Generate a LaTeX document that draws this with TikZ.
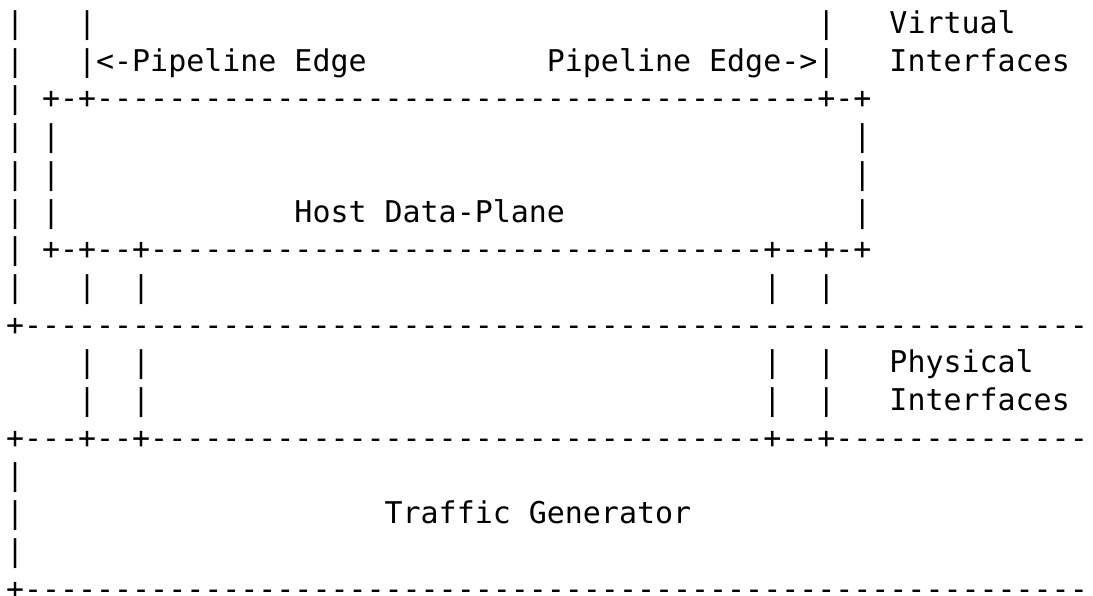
\documentclass[tikz,border=0pt]{standalone}
\usepackage{fontspec}
\setmonofont{DejaVu Sans Mono}
\usepackage{tikz}
\tikzset{ascii/.style={font=\ttfamily\fontsize{14.975pt}{18pt}\selectfont,
    anchor=base west,inner sep=0pt,outer sep=0pt}}
% a run of n dashes
\newcommand{\dashrun}[1]{\foreach \n in {1,...,#1}{-}}

\begin{document}
\begin{tikzpicture}[x=9.015pt,y=-18.85pt]
        % one unit = one character cell, rows counted downwards
        \clip (-0.333,-0.889) rectangle (60.288,14.894);
        \fill[white] (-0.333,-0.889) rectangle (60.288,14.894);

        % left frame down to the split line
        \foreach \r in {0,...,7} { \node[ascii] (frame\r) at (0,\r) {|}; }

        % pipeline edges
        \node[ascii] (edgeLtop) at (4,0) {|};
        \node[ascii] (edgeL) at (4,1) {|<-Pipeline Edge};
        \node[ascii] (edgeRtop) at (45,0) {|};
        \node[ascii] (edgeR) at (30,1) {Pipeline Edge->|};
        \node[ascii] (virt1) at (49,0) {Virtual};
        \node[ascii] (virt2) at (49,1) {Interfaces};

        % host data-plane box
        \node[ascii] (hostTop) at (2,2) {+-+\dashrun{40}+-+};
        \foreach \r in {3,4,5} {
            \node[ascii] (hostL\r) at (2,\r) {|};
            \node[ascii] (hostR\r) at (47,\r) {|};
        }
        \node[ascii] (host) at (16,5) {Host Data-Plane};
        \node[ascii] (hostBot) at (2,6) {+-+--+\dashrun{34}+--+-+};

        % split line between host and wire
        \node[ascii] (split) at (0,8) {+\dashrun{59}};

        % interface legs
        \foreach \c in {4,7,42,45} {
            \foreach \r in {7,9,10} { \node[ascii] (leg\c-\r) at (\c,\r) {|}; }
        }
        \node[ascii] (phys1) at (49,9) {Physical};
        \node[ascii] (phys2) at (49,10) {Interfaces};

        % traffic generator
        \node[ascii] (genTop) at (0,11) {+---+--+\dashrun{34}+--+\dashrun{14}};
        \foreach \r in {12,13,14} { \node[ascii] (genL\r) at (0,\r) {|}; }
        \node[ascii] (gen) at (21,13) {Traffic Generator};
        \node[ascii] (genBot) at (0,15) {+\dashrun{59}};

    \end{tikzpicture}
\end{document}
